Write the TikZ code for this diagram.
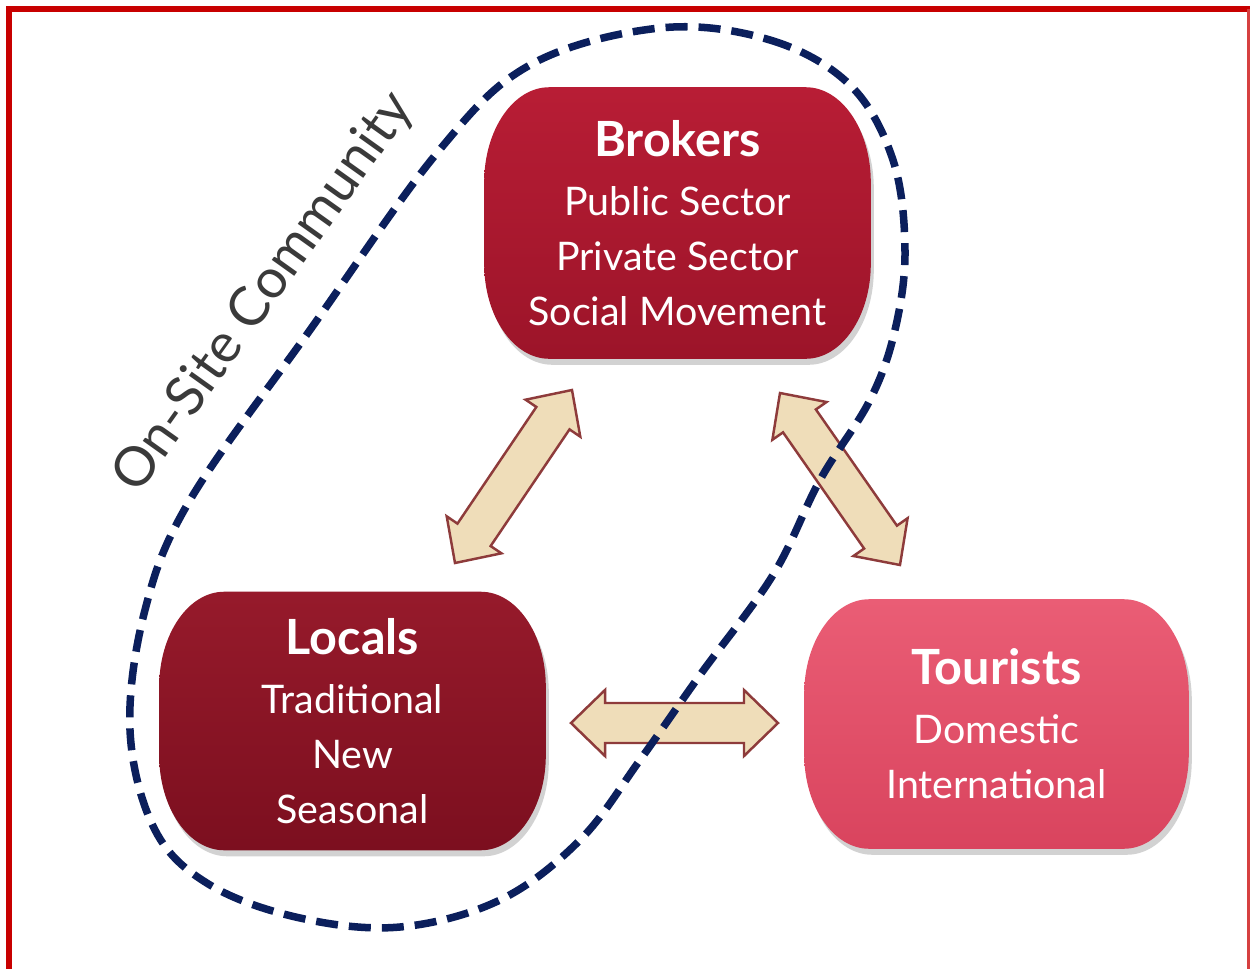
\documentclass[tikz,border=0pt]{standalone}
\usepackage{fontspec}
\setmainfont{Lato}
\usetikzlibrary{calc,shadows,backgrounds}
\definecolor{frameRed}{HTML}{C80000}
\definecolor{navy}{HTML}{0B1F5C}
\definecolor{brokTop}{HTML}{B81D35}
\definecolor{brokBot}{HTML}{9C1429}
\definecolor{locTop}{HTML}{961A2B}
\definecolor{locBot}{HTML}{7C0F1F}
\definecolor{touTop}{HTML}{EA5D75}
\definecolor{touBot}{HTML}{D9445E}
\definecolor{arrFill}{HTML}{EFDDB9}
\definecolor{arrLine}{HTML}{8E3B3B}
\definecolor{labGray}{HTML}{3A3A3A}
\newcommand\blobshape[3]{%
  \path[drop shadow={opacity=0.35,shadow xshift=0.03cm,shadow yshift=-0.06cm},
        top color=#2,bottom color=#3]
    ([xshift=0.65cm]#1.north west) -- ([xshift=-0.65cm]#1.north east)
    arc[start angle=90,end angle=0,x radius=0.65cm,y radius=0.95cm]
    -- ([yshift=0.95cm]#1.south east)
    arc[start angle=0,end angle=-90,x radius=0.65cm,y radius=0.95cm]
    -- ([xshift=0.65cm]#1.south west)
    arc[start angle=270,end angle=180,x radius=0.65cm,y radius=0.95cm]
    -- ([yshift=-0.95cm]#1.north west)
    arc[start angle=180,end angle=90,x radius=0.65cm,y radius=0.95cm]
    -- cycle;}
\tikzset{
  actor/.style={inner sep=0pt,minimum width=3.85cm,align=center,text=white,
    font=\fontsize{11.2}{15.6}\selectfont},
  blockarrow/.style={fill=arrFill,draw=arrLine,line width=0.7pt,line join=miter,
    to path={let \p1=(\tikztostart), \p2=(\tikztotarget),
      \n1={atan2(\y2-\y1,\x2-\x1)} in
      (\p1) -- ($(\p1)+(\n1:0.34cm)+(\n1+90:0.33cm)$)
      -- ($(\p1)+(\n1:0.34cm)+(\n1+90:0.2cm)$)
      -- ($(\p2)+(\n1+180:0.34cm)+(\n1+90:0.2cm)$)
      -- ($(\p2)+(\n1+180:0.34cm)+(\n1+90:0.33cm)$)
      -- (\p2)
      -- ($(\p2)+(\n1+180:0.34cm)+(\n1-90:0.33cm)$)
      -- ($(\p2)+(\n1+180:0.34cm)+(\n1-90:0.2cm)$)
      -- ($(\p1)+(\n1:0.34cm)+(\n1-90:0.2cm)$)
      -- ($(\p1)+(\n1:0.34cm)+(\n1-90:0.33cm)$)
      -- cycle}},
  community/.style={draw=navy,line width=0.075cm,dash pattern=on 0.22cm off 0.11cm}
}
\newcommand\ttl[1]{{\fontsize{13.8}{15.6}\selectfont\bfseries #1}\\[0.04cm]}
\begin{document}
\begin{tikzpicture}[x=0.01cm,y=-0.01cm]
\useasboundingbox (0,0) rectangle (1250,969);

% actors
\node[actor,minimum height=2.7cm] (brokers) at (677.5,223)
  {\ttl{Brokers}Public Sector\\Private Sector\\Social Movement};
\node[actor,minimum height=2.57cm] (locals) at (352.5,721)
  {\ttl{Locals}Traditional\\New\\Seasonal};
\node[actor,minimum height=2.48cm,minimum width=3.83cm] (tourists) at (996.5,724)
  {\ttl{Tourists}Domestic\\International};

% arrow end points
\coordinate (lbA) at (455,563);
\coordinate (lbB) at (572,390);
\coordinate (btA) at (780,393);
\coordinate (btB) at (900,565);
\coordinate (ltA) at (571,723);
\coordinate (ltB) at (778,723);

\begin{scope}[on background layer]
  \fill[white] (0,0) rectangle (1250,969);
  \draw[frameRed,line width=0.06cm,line cap=rect] (9,969) -- (9,9) -- (1250,9);
  \draw[frameRed!75,line width=0.02cm] (1248.5,9) -- (1248.5,969);
  \blobshape{brokers}{brokTop}{brokBot}
  \blobshape{locals}{locTop}{locBot}
  \blobshape{tourists}{touTop}{touBot}
  \path[blockarrow] (lbA) to (lbB);
  \path[blockarrow] (btA) to (btB);
  \path[blockarrow] (ltA) to (ltB);
  \draw[community] plot[smooth cycle,tension=0.6] coordinates {
    (660,28) (770,40) (850,85) (893,160) (905,250) (895,330) (870,400)
    (820,480) (773,575) (700,675) (640,760) (580,840) (500,900) (400,927)
    (300,918) (210,885) (155,830) (130,730) (145,610) (190,500) (310,330)
    (437,153) (530,65)};
\end{scope}

\node[text=labGray,rotate=54.5,font=\fontsize{15.5}{18}\selectfont] (community) at (264,293)
  {On-Site Community};
\end{tikzpicture}
\end{document}
